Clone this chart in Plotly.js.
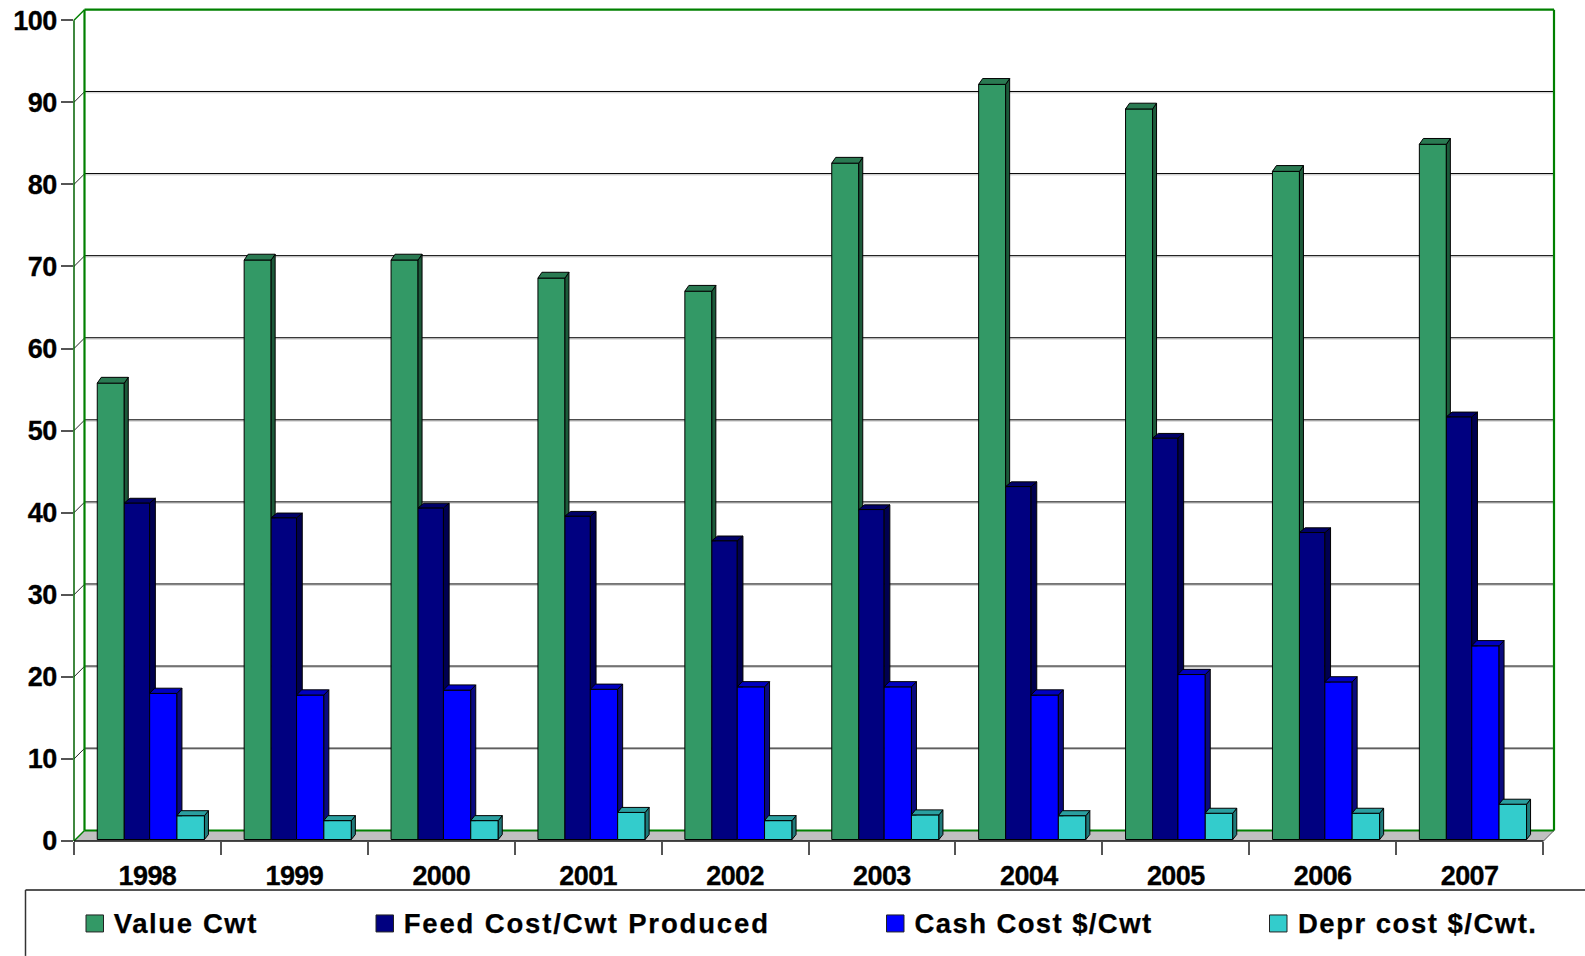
<!DOCTYPE html>
<html>
<head>
<meta charset="utf-8">
<script src="https://cdn.plot.ly/plotly-3.0.1.min.js"></script>
<style>html,body{margin:0;padding:0;background:#fff;overflow:hidden}</style>
</head>
<body>
<div id="chart" style="width:1585px;height:956px"></div>
<script>
var years = ["1998","1999","2000","2001","2002","2003","2004","2005","2006","2007"];
var valueCwt = [55.6,70.6,70.6,68.4,66.8,82.4,92.0,89.0,81.4,84.7];
var feedCost = [41.0,39.2,40.4,39.4,36.4,40.2,43.0,48.9,37.4,51.5];
var cashCost = [17.8,17.6,18.2,18.3,18.6,18.6,17.6,20.1,19.2,23.6];
var deprCost = [2.9,2.3,2.3,3.3,2.3,3.0,2.9,3.2,3.2,4.3];
var seriesNames = ["Value Cwt","Feed Cost/Cwt Produced","Cash Cost $/Cwt","Depr cost $/Cwt."];
var yTicks = [0,10,20,30,40,50,60,70,80,90,100];

// styling / geometry
var W=1585,H=956,L=74,R=1554,T=9.5,B=841;
var catPx=146.9, yPx=8.213, back=10.5, basePx=1.5;
var front=["#339966","#000080","#0000FF","#33CCCC"];
var side=["#1c5a3a","#000050","#0a0a80","#1f7a7a"];
var top_=["#2a7a52","#000068","#0000c0","#2a9fa0"];
var offPx=[-50.2,-23.2,2.2,29.5], widPx=[27,25.4,27.3,27.5];
var dxPx=[4,5.7,5,4], dyPx=[5.8,4.7,5.2,5];
var legSwatch=[86,376,886.5,1269.5], legText=[186,586,1033,1417], legSpacing=[1.6,1.85,1.4,1.5];

var all=[valueCwt,feedCost,cashCost,deprCost];
var cx=function(p){return p/catPx}, cy=function(p){return p/yPx};
var base=cy(basePx);
var idx=years.map(function(_,i){return i});
var traces=[];

all.forEach(function(vals,s){
  traces.push({type:"bar",name:seriesNames[s],x:idx,y:vals,base:base,
    offset:cx(offPx[s]),width:cx(widPx[s]),
    marker:{color:front[s],line:{color:"#000",width:1}},hovertemplate:"%{y}<extra>"+seriesNames[s]+"</extra>"});
});
all.forEach(function(vals,s){
  var next=all[s+1];
  var dx=cx(dxPx[s]),dy=cy(dyPx[s]),w=cx(widPx[s]),o=cx(offPx[s]);
  var sx=[],sy=[],tx=[],ty=[];
  vals.forEach(function(v,i){
    var l=i+o,r=l+w,t=v+base,b=next?next[i]+base:base;
    sx.push(r,r+dx,r+dx,r,r,null);
    sy.push(t,t+dy,next?b:b+dy,b,t,null);
    tx.push(l,l+dx,r+dx,r,l,null);
    ty.push(t,t+dy,t+dy,t,t,null);
  });
  [[sx,sy,side[s]],[tx,ty,top_[s]]].forEach(function(f){
    traces.push({type:"scatter",mode:"lines",x:f[0],y:f[1],fill:"toself",fillcolor:f[2],
      line:{color:"#000",width:1},hoverinfo:"skip",showlegend:false});
  });
});

var xMin=-0.5,xMax=xMin+(R-L)/catPx,yMax=(B-T)/yPx;
var pxP=function(p){return (p-L)/(R-L)}, pyP=function(p){return (B-p)/(B-T)};
var vy=function(v){return B-v*yPx};
var shapes=[];
// structural lines in paper space, given in page pixels, so that they are not clipped at the plot edge
function ln(x0,y0,x1,y1,c,w){shapes.push({type:"line",xref:"paper",yref:"paper",x0:pxP(x0),y0:pyP(y0),x1:pxP(x1),y1:pyP(y1),line:{color:c,width:w},layer:"below"})}
var BL=L+back, yb0=vy(0)-back, yb100=vy(100)-back;
// floor
shapes.push({type:"path",xref:"paper",yref:"paper",layer:"below",fillcolor:"#c0c0c0",line:{width:0},
  path:"M"+pxP(L)+","+pyP(B)+" L"+pxP(BL)+","+pyP(yb0)+" L"+pxP(R)+","+pyP(yb0)+" L"+pxP(R-back)+","+pyP(B)+" Z"});
// gridlines on the back wall with connectors on the side wall
yTicks.forEach(function(v){
  if(v>0&&v<100){
    var y=vy(v);
    ln(BL,y-back+1,R,y-back+1,"#c8c8c8",1);
    ln(BL,y-back-0.3,R,y-back-0.3,"#000",1);
    ln(L,y,BL,y-back,"#222",1);
  }
});
// walls
ln(BL,yb0,BL,yb100,"#008000",2.2);
ln(BL,yb100,R,yb100,"#008000",2.2);
ln(R,yb0,R,yb100,"#008000",2.2);
ln(BL,yb0,R,yb0,"#008000",2);
ln(L,vy(0),L,vy(100),"#006000",1.5);
ln(L,vy(100),BL,yb100,"#008000",1.5);
ln(L,vy(0),BL,yb0,"#008000",1.5);
ln(R-back,vy(0),R,yb0,"#555",1);
ln(L,vy(0),R-back,vy(0),"#111",1.5);

// legend frame and swatches
ln(25.5,890,1585,890,"#555",2);
ln(25.5,890,25.5,956,"#333",1.5);
var anns=[];
seriesNames.forEach(function(n,s){
  shapes.push({type:"rect",xref:"paper",yref:"paper",x0:pxP(legSwatch[s]),x1:pxP(legSwatch[s]+17.5),y0:pyP(915),y1:pyP(932),
    fillcolor:front[s],line:{color:"#222",width:1}});
  anns.push({xref:"paper",yref:"paper",x:pxP(legText[s]),y:pyP(924),xanchor:"center",yanchor:"middle",showarrow:false,text:n,
    font:{family:"Liberation Sans",size:27.5,weight:700,color:"#000"}});
});

var tickFont={family:"Liberation Sans",size:27,weight:700,color:"#000"};
var layout={width:W,height:H,margin:{l:L,r:W-R,t:T,b:H-B,pad:0},
  paper_bgcolor:"#fff",plot_bgcolor:"rgba(0,0,0,0)",barmode:"overlay",showlegend:false,
  font:{family:"Liberation Sans",color:"#000"},
  xaxis:{range:[xMin,xMax],tickmode:"array",tickvals:idx,ticktext:years,ticks:"outside",ticklen:13,tickcolor:"rgba(0,0,0,0)",
    tickfont:tickFont,ticklabelstandoff:-2,showgrid:false,zeroline:false,showline:false,
    minor:{tickmode:"array",tickvals:idx.concat([10]).map(function(i){return i-0.5}),ticks:"outside",ticklen:13,tickcolor:"#555",tickwidth:1.5,showgrid:false}},
  yaxis:{range:[0,yMax],tickmode:"array",tickvals:yTicks,ticks:"outside",ticklen:12,tickcolor:"#555",tickwidth:1.5,
    tickfont:tickFont,ticklabelstandoff:-1,showgrid:false,zeroline:false,showline:false},
  shapes:shapes,annotations:anns};

Plotly.newPlot("chart",traces,layout,{displayModeBar:false,responsive:false}).then(function(gd){
  gd.querySelectorAll(".annotation-text").forEach(function(t,i){t.style.letterSpacing=legSpacing[i]+"px";t.style.stroke="#000";t.style.strokeWidth="0.25px"});
  gd.querySelectorAll(".xtick text,.ytick text").forEach(function(t){t.style.letterSpacing="-0.6px";t.style.stroke="#000";t.style.strokeWidth="0.3px"});
});
</script>
</body>
</html>
